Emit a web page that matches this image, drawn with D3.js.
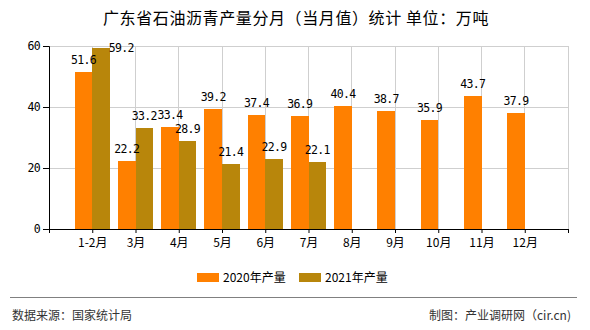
<!DOCTYPE html>
<html><head><meta charset="utf-8">
<script src="https://cdn.jsdelivr.net/npm/d3@7"></script>
<style>
body{margin:0;background:#fff;}
svg{display:block;}
text{font-family:"Noto Sans CJK SC","DejaVu Sans",sans-serif;}
</style></head>
<body><svg id="c" width="590" height="330"></svg>
<script>
const categories = ["1-2月","3月","4月","5月","6月","7月","8月","9月","10月","11月","12月"];
const series = ["2020年产量","2021年产量"];
const values2020 = [51.6,22.2,33.4,39.2,37.4,36.9,40.4,38.7,35.9,43.7,37.9];
const values2021 = [59.2,33.2,28.9,21.4,22.9,22.1,null,null,null,null,null];
const yTicks = [0,20,40,60];
const colors = ["#FF8000","#B8860B"];
const title = "广东省石油沥青产量分月（当月值）统计 单位：万吨";
const sourceText = "数据来源：国家统计局";
const creditText = "制图：产业调研网（cir.cn)";

const numFont = "'DejaVu Sans Mono','Liberation Mono',monospace";
const svg = d3.select("#c");
const L = 49, R = 568, T = 46, B = 229;
const x = d3.scaleLinear().domain([0, categories.length + 1]).range([L, R]);
const y = d3.scaleLinear().domain([0, 60]).range([B, T]);
const step = x(1) - x(0);
const inner = d3.scaleBand().domain(series).range([-step*0.405, step*0.405]);
const fill = d3.scaleOrdinal().domain(series).range(colors);

// title
svg.append("text").attr("x", 296).attr("y", 24).attr("text-anchor","middle")
  .attr("font-size", 16).attr("letter-spacing", 0.6).attr("fill","#000").text(title);

// grid
const g = svg.append("g");
g.selectAll("line.h").data(yTicks.filter(d=>d>0)).join("line")
  .attr("x1", L).attr("x2", R).attr("y1", d=>y(d)).attr("y2", d=>y(d))
  .attr("stroke","#cfcfcf").attr("stroke-width",1).attr("shape-rendering","crispEdges");
g.selectAll("line.v").data(d3.range(1, categories.length + 2)).join("line")
  .attr("x1", d=>x(d)).attr("x2", d=>x(d)).attr("y1", T).attr("y2", B)
  .attr("stroke","#cfcfcf").attr("stroke-width",1).attr("shape-rendering","crispEdges");

// bars
const rows = categories.map((c,i)=>({c, i, vals:[values2020[i], values2021[i]]}));
const bars = [];
rows.forEach(r => r.vals.forEach((v,k)=>{ if(v!=null) bars.push({i:r.i, s:series[k], v}); }));
svg.append("g").selectAll("rect").data(bars).join("rect")
  .attr("x", d=>x(d.i+1) + inner(d.s))
  .attr("width", inner.bandwidth())
  .attr("y", d=>y(d.v))
  .attr("height", d=>y(0)-y(d.v))
  .attr("fill", d=>fill(d.s))
  .attr("shape-rendering","crispEdges");

// labels
svg.append("g").selectAll("text").data(bars).join("text")
  .each(function(d){
    const bx = x(d.i+1) + inner(d.s), bw = inner.bandwidth(), top = y(d.v);
    const t = d3.select(this);
    if (top - 18 < T - 6) {
      t.attr("x", bx + bw - 1).attr("y", top + 4).attr("text-anchor","start");
    } else {
      t.attr("x", bx + bw/2).attr("y", top - 8).attr("text-anchor","middle");
    }
  })
  .style("font-family", numFont).attr("font-size", 11.5).attr("letter-spacing", -0.7)
  .attr("fill","#000")
  .text(d=>d.v.toFixed(1));

// axes
const yAxis = svg.append("g").attr("transform",`translate(${L},0)`)
  .call(d3.axisLeft(y).tickValues(yTicks).tickSize(6).tickPadding(3));
yAxis.select(".domain").attr("stroke","#000");
yAxis.selectAll("text").style("font-family", numFont).attr("font-size",11.5).attr("letter-spacing",-0.7).attr("fill","#000");

const xAxis = svg.append("g").attr("transform",`translate(0,${B})`)
  .call(d3.axisBottom(x).tickValues(d3.range(0, categories.length + 2)).tickSize(4).tickSizeOuter(0)
    .tickFormat(d => categories[d-1] || ""));
xAxis.select(".domain").attr("stroke","#000");
xAxis.selectAll("text").attr("font-size",12).attr("fill","#000").attr("dy","0.95em");

// right border
svg.append("line").attr("x1",R).attr("x2",R).attr("y1",T).attr("y2",B)
  .attr("stroke","#cfcfcf").attr("shape-rendering","crispEdges");

// legend
const lg = svg.append("g");
const lx = [197, 299];
series.forEach((s,k)=>{
  lg.append("rect").attr("x", lx[k]).attr("y", 273).attr("width", 22).attr("height", 9).attr("fill", fill(s));
  lg.append("text").attr("x", lx[k]+26).attr("y", 282).attr("font-size", 12).attr("fill","#000").text(s);
});

// footer
svg.append("line").attr("x1",10).attr("x2",577).attr("y1",297.5).attr("y2",297.5).attr("stroke","#808080");
svg.append("text").attr("x",12).attr("y",320).attr("font-size",12).attr("fill","#333").text(sourceText);
svg.append("text").attr("x",571).attr("y",320).attr("text-anchor","end").attr("font-size",12).attr("fill","#333").text(creditText);
</script></body></html>
